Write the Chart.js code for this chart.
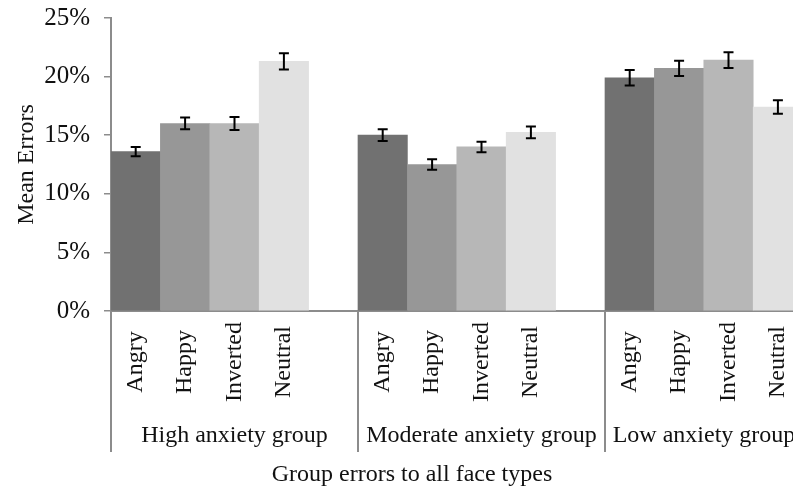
<!DOCTYPE html>
<html>
<head>
<meta charset="utf-8">
<script src="https://cdn.jsdelivr.net/npm/chart.js@4/dist/chart.umd.min.js"></script>
<style>
    html, body { margin: 0; padding: 0; overflow: hidden; background: #fff; }
    #wrap { width: 852px; height: 490px; }
</style>
</head>
<body>
<div id="wrap"><canvas id="myChart" width="852" height="490"></canvas></div>
<script>
const groups = ['High anxiety group', 'Moderate anxiety group', 'Low anxiety group']
const faceTypes = ['Angry', 'Happy', 'Inverted', 'Neutral']

// mean errors (%) per face type, one list per group
const highMeans = [13.6, 16.0, 16.0, 21.3]
const moderateMeans = [15.0, 12.5, 14.0, 15.25]
const lowMeans = [19.9, 20.7, 21.4, 17.4]

// error bar half lengths (%)
const highErr = [0.4, 0.5, 0.55, 0.7]
const moderateErr = [0.5, 0.45, 0.45, 0.5]
const lowErr = [0.67, 0.65, 0.67, 0.58]

const yTicks = [0, 5, 10, 15, 20, 25]
const xTitle = 'Group errors to all face types'
const yTitle = 'Mean Errors'

const faceColors = ['#717171', '#979797', '#b7b7b7', '#e1e1e1']
const FONT = '"Liberation Serif", "Times New Roman", serif'

// every group gets 4 bars and one empty slot after it
const allMeans = [highMeans, moderateMeans, lowMeans]
const allErr = [highErr, moderateErr, lowErr]
let labels = []
let values = []
let errors = []
let colors = []
for (let g = 0; g < groups.length; g++) {
    for (let f = 0; f < faceTypes.length; f++) {
        labels.push(faceTypes[f])
        values.push(allMeans[g][f])
        errors.push(allErr[g][f])
        colors.push(faceColors[f])
    }
    labels.push('')
    values.push(null)
    errors.push(null)
    colors.push('rgba(0,0,0,0)')
}

const extras = {
    id: 'extras',
    afterDatasetsDraw: (chart) => {
        const ctx = chart.ctx
        const y = chart.scales.y
        const meta = chart.getDatasetMeta(0)

        // error bars
        ctx.save()
        ctx.strokeStyle = '#000'
        ctx.lineWidth = 2
        meta.data.forEach((bar, i) => {
            if (values[i] === null) return
            const top = y.getPixelForValue(values[i] + errors[i])
            const bot = y.getPixelForValue(values[i] - errors[i])
            ctx.beginPath()
            ctx.moveTo(bar.x, top)
            ctx.lineTo(bar.x, bot)
            ctx.moveTo(bar.x - 5, top)
            ctx.lineTo(bar.x + 5, top)
            ctx.moveTo(bar.x - 5, bot)
            ctx.lineTo(bar.x + 5, bot)
            ctx.stroke()
        })
        ctx.restore()
    },
    afterDraw: (chart) => {
        const ctx = chart.ctx
        const x = chart.scales.x
        const area = chart.chartArea
        const slot = (area.right - area.left) / labels.length

        ctx.save()
        // group separator lines below the axis
        ctx.strokeStyle = '#8c8c8c'
        ctx.lineWidth = 2
        for (let k = 0; k <= groups.length; k++) {
            const sx = area.left + slot * 5 * k
            ctx.beginPath()
            ctx.moveTo(sx, area.bottom)
            ctx.lineTo(sx, 452)
            ctx.stroke()
        }

        ctx.fillStyle = '#111'
        ctx.font = '24px ' + FONT

        // rotated face type labels
        labels.forEach((lab, i) => {
            if (!lab) return
            const lx = x.getPixelForValue(i)
            ctx.save()
            ctx.translate(lx, 362)
            ctx.rotate(-Math.PI / 2)
            ctx.textAlign = 'center'
            ctx.textBaseline = 'middle'
            ctx.fillText(lab, 0, 0)
            ctx.restore()
        })

        // group labels (the figure is cropped on the right, so centre in the visible part)
        ctx.textAlign = 'center'
        ctx.textBaseline = 'middle'
        groups.forEach((g, k) => {
            const start = area.left + slot * 5 * k
            const end = Math.min(start + slot * 5, 803)
            ctx.fillText(g, (start + end) / 2, 436)
        })

        // x axis title
        ctx.fillText(xTitle, 412, 475)
        ctx.restore()
    }
}

new Chart(document.getElementById('myChart'), {
    type: 'bar',
    data: {
        labels: labels,
        datasets: [{
            data: values,
            backgroundColor: colors,
            borderWidth: 0,
            barPercentage: 1,
            categoryPercentage: 1
        }]
    },
    options: {
        responsive: false,
        animation: false,
        layout: { padding: { top: 18, right: 0, left: 0, bottom: 0 } },
        plugins: {
            legend: { display: false },
            tooltip: { enabled: false }
        },
        scales: {
            x: {
                ticks: { display: false },
                grid: { display: false },
                border: { color: '#8c8c8c', width: 2 },
                afterFit: (scale) => { scale.height = 179 }
            },
            y: {
                min: 0,
                max: 25,
                afterBuildTicks: (scale) => { scale.ticks = yTicks.map(v => ({ value: v })) },
                ticks: {
                    padding: 14,
                    color: '#111',
                    font: { family: FONT, size: 25 },
                    callback: (v) => v + '%'
                },
                grid: { drawOnChartArea: false, tickLength: 7, color: '#8c8c8c', lineWidth: 1.5 },
                border: { color: '#8c8c8c', width: 2 },
                title: {
                    display: true,
                    text: yTitle,
                    color: '#111',
                    font: { family: FONT, size: 24 },
                    padding: { top: 12, bottom: 0 }
                },
                afterFit: (scale) => {
                    scale.width = 111
                    scale.paddingTop = 0
                    scale.paddingBottom = 0
                }
            }
        }
    },
    plugins: [extras]
})
</script>
</body>
</html>
